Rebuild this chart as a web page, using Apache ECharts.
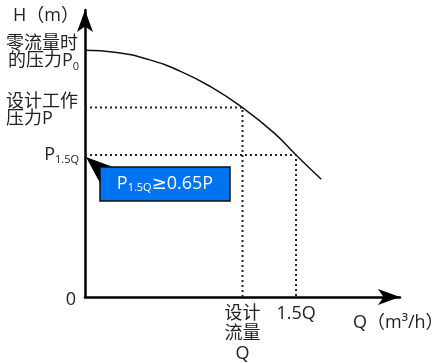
<!DOCTYPE html>
<html><head><meta charset="utf-8">
<script src="https://cdn.jsdelivr.net/npm/echarts@6/dist/echarts.min.js"></script>
<style>html,body{margin:0;padding:0;background:#fff}#c{width:441px;height:363px}</style>
</head><body><div id="c"></div>
<script>
// ---- data (schematic units 0..100) ----
const curveQ = [0, 10, 20, 30, 40, 50, 60, 67, 75];
const curveH = [86, 85.2, 82.8, 78.8, 73.2, 66, 57.2, 49.5, 41];
const designQ = 50, designP = 66;
const q15 = 67, p15 = 49.5;
const p0 = 86;
const xTicks = [designQ, q15];
const xTickLabels = ['设计\n流量\nQ', '1.5Q'];
const yTicks = [0, p15, designP, p0];
const yTickLabels = ['{z|0}', 'P{s|1.5Q}', '{t|设计工作}\n{w|压力P}', '{t|零流量时}\n{v|的压力P}{s|0}'];
const xName = 'Q（m³/h）';
const yName = 'H（m）';
const calloutText = 'P{s|1.5Q}{g|≥}0.65P';

const FONT = '"Open Sans", "Noto Sans CJK SC", sans-serif';
const chart = echarts.init(document.getElementById('c'), null, {renderer: 'canvas'});

const guide1 = [[0, designP], [designQ, designP], [designQ, 0]];
const guide2 = [[0, p15], [q15, p15], [q15, 0]];
const dotted = {color: '#222', width: 2, type: [2, 3]};
const base = {fontSize: 18, fontFamily: FONT, color: '#222'};
const richY = {
  t: Object.assign({}, base, {lineHeight: 22, width: 73, align: 'left', padding: [10, 0, 0, 0]}),
  w: Object.assign({}, base, {lineHeight: 22, width: 73, align: 'left'}),
  v: Object.assign({}, base, {lineHeight: 22}),
  z: Object.assign({}, base, {lineHeight: 20, padding: [6, 3, 0, 0]}),
  s: {fontSize: 11, fontFamily: FONT, color: '#222', lineHeight: 11, verticalAlign: 'bottom', padding: [14, 0, 0, 0]}
};

chart.setOption({
  animation: false,
  grid: {left: 85, right: 41, top: 10, bottom: 66, outerBoundsMode: 'none', containLabel: false},
  xAxis: {
    type: 'value', min: 0, max: 100,
    splitLine: {show: false},
    axisTick: {show: false},
    axisLine: {show: true, lineStyle: {color: '#000', width: 2.5}, symbol: ['none', 'arrow'], symbolSize: [12, 22]},
    axisLabel: {
      customValues: xTicks,
      formatter: v => xTickLabels[xTicks.indexOf(v)],
      fontSize: 18, fontFamily: FONT, color: '#222', lineHeight: 20, margin: 7
    },
    name: xName, nameLocation: 'end', nameGap: -47,
    nameTextStyle: {fontSize: 18, fontFamily: FONT, color: '#222', verticalAlign: 'top', align: 'left', padding: [17, 0, 0, 0]}
  },
  yAxis: {
    type: 'value', min: 0, max: 100,
    splitLine: {show: false},
    axisTick: {show: false},
    axisLine: {show: true, lineStyle: {color: '#000', width: 2.5}, symbol: ['none', 'arrow'], symbolSize: [12, 22]},
    axisLabel: {
      customValues: yTicks,
      formatter: v => yTickLabels[yTicks.indexOf(v)],
      fontSize: 18, fontFamily: FONT, color: '#222', lineHeight: 20, margin: 6,
      rich: richY
    },
    name: '{h|' + yName + '}', nameLocation: 'end', nameGap: -9,
    nameTextStyle: {fontSize: 18, fontFamily: FONT, color: '#222', align: 'right', verticalAlign: 'middle', padding: [0, 0, 0, 0],
      rich: {h: Object.assign({}, base, {width: 72, align: 'left'})}}
  },
  series: [
    {type: 'line', data: curveQ.map((q, i) => [q, curveH[i]]), smooth: true, showSymbol: false,
     lineStyle: {color: '#111', width: 1.5}, z: 3},
    {type: 'line', data: guide1, showSymbol: false, lineStyle: dotted},
    {type: 'line', data: guide2, showSymbol: false, lineStyle: dotted}
  ]
});

// callout anchored at (0, p15)
const a = chart.convertToPixel({gridIndex: 0}, [0, p15]);
chart.setOption({
  graphic: [
    {type: 'polygon', shape: {points: [[a[0] + 1, a[1] + 2], [a[0] + 28, a[1] + 12], [a[0] + 15, a[1] + 28]]},
     style: {fill: '#000'}, z: 10},
    {type: 'rect', shape: {x: a[0] + 15, y: a[1] + 12, width: 130, height: 34},
     style: {fill: '#0073F0', stroke: '#111', lineWidth: 1.5}, z: 11},
    {type: 'text', x: a[0] + 80, y: a[1] + 29, z: 12,
     style: {text: calloutText, fill: '#fff', fontSize: 18, fontFamily: FONT, align: 'center', verticalAlign: 'middle',
       rich: {
         s: {fontSize: 11, fontFamily: FONT, fill: '#fff', lineHeight: 11, verticalAlign: 'bottom', padding: [14, 0, 0, 0]},
         g: {fontSize: 18, fontFamily: '"DejaVu Sans", sans-serif', fill: '#fff'}
       }}}
  ]
});
</script></body></html>
